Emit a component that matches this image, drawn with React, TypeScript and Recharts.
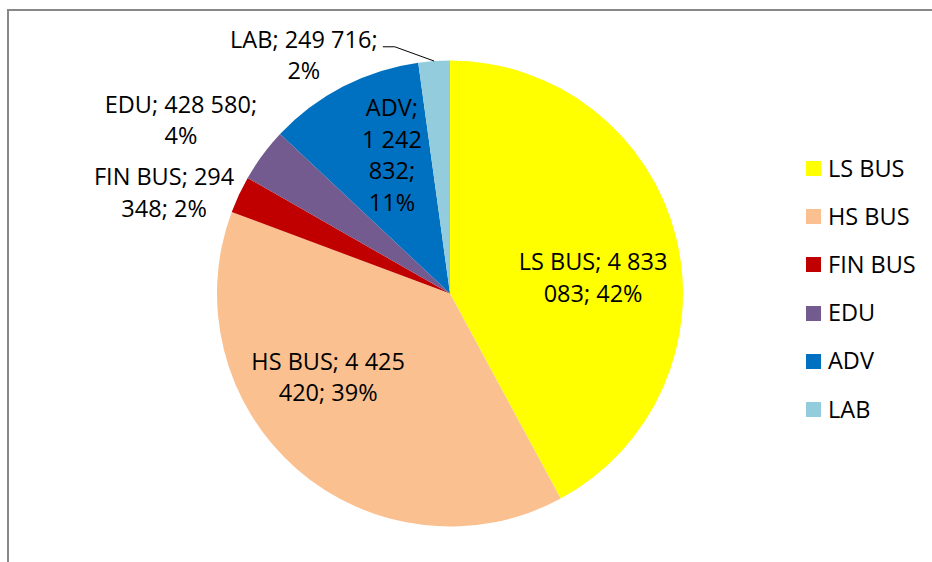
import { PieChart, Pie, Cell, Legend } from "recharts";

const categories = ["LS BUS", "HS BUS", "FIN BUS", "EDU", "ADV", "LAB"];
const values = [4833083, 4425420, 294348, 428580, 1242832, 249716];
const colors = ["#FFFF00", "#FAC090", "#C00000", "#735A8F", "#0070C0", "#93CDDD"];

// wrapped label text as Excel shows it
const labelLines = [
  ["LS BUS; 4 833", "083; 42%"],
  ["HS BUS; 4 425", "420; 39%"],
  ["FIN BUS; 294", "348; 2%"],
  ["EDU; 428 580;", "4%"],
  ["ADV;", "1 242", "832;", "11%"],
  ["LAB; 249 716;", "2%"],
];

// label radius (x outerRadius) and angle shift from slice middle
const labelPlace = [
  { r: 0.618, shift: -7.8 },
  { r: 0.634, shift: -14.5 },
  { r: 1.301, shift: 5.7 },
  { r: 1.374, shift: 3.65 },
  { r: 0.645, shift: -4.6 },
  { r: 1.2, shift: 27.6 },
];

const data = categories.map((name, i) => ({ name, value: values[i] }));

const FONT = "'Open Sans', Lato, sans-serif";
const FS = 23.5;
const LH = 31.7;
const CAP = 17;
const RAD = Math.PI / 180;

function renderLabel(props: any) {
  const { cx, cy, midAngle, outerRadius, index } = props;
  const p = labelPlace[index];
  const lines = labelLines[index];
  const a = (midAngle + p.shift) * RAD;
  const R = outerRadius * p.r;
  const x = cx + R * Math.cos(-a);
  const y = cy + R * Math.sin(-a);
  const b1 = y - ((lines.length - 1) * LH) / 2 + CAP / 2;
  let leader = null;
  if (categories[index] === "LAB") {
    const ma = midAngle * RAD;
    const sx = cx + outerRadius * Math.cos(-ma);
    const sy = cy + outerRadius * Math.sin(-ma);
    leader = (
      <path
        d={`M${sx},${sy}L${x + 91},${b1 - 1}L${x + 79},${b1 - 1}`}
        stroke="#000"
        strokeWidth={1}
        fill="none"
      />
    );
  }
  return (
    <g>
      {leader}
      <text x={x} y={b1} textAnchor="middle" fill="#000" fontSize={FS} fontFamily={FONT}>
        {lines.map((t, k) => (
          <tspan key={k} x={x} y={b1 + k * LH}>
            {t}
          </tspan>
        ))}
      </text>
    </g>
  );
}

function renderLegend() {
  return (
    <div style={{ fontFamily: FONT, fontSize: FS, color: "#000", lineHeight: 1 }}>
      {categories.map((name, i) => (
        <div key={name} style={{ display: "flex", alignItems: "center", height: 48.2 }}>
          <span style={{ width: 15, height: 15, background: colors[i], display: "inline-block", marginRight: 7 }} />
          <span>{name}</span>
        </div>
      ))}
    </div>
  );
}

export default function App() {
  return (
    <div style={{ position: "fixed", left: 0, top: 0, width: 932, height: 562, background: "#fff", overflow: "hidden" }}>
      <div
        style={{
          position: "absolute", left: 7, top: 9, width: 940, height: 570,
          borderLeft: "2px solid #888", borderTop: "2px solid #888",
        }}
      />
      <PieChart
        width={932}
        height={562}
        margin={{ top: 0, right: 0, bottom: 0, left: 0 }}
        style={{ position: "absolute", left: 0, top: 0 }}
      >
        <Pie
          data={data}
          dataKey="value"
          nameKey="name"
          cx={450}
          cy={293.5}
          outerRadius={233}
          startAngle={90}
          endAngle={-270}
          stroke="none"
          label={renderLabel}
          labelLine={false}
          isAnimationActive={false}
        >
          {data.map((d, i) => (
            <Cell key={d.name} fill={colors[i]} />
          ))}
        </Pie>
        <Legend
          layout="vertical"
          content={renderLegend}
          wrapperStyle={{ position: "absolute", left: 806, top: 144.4, width: 120 }}
        />
      </PieChart>
    </div>
  );
}
